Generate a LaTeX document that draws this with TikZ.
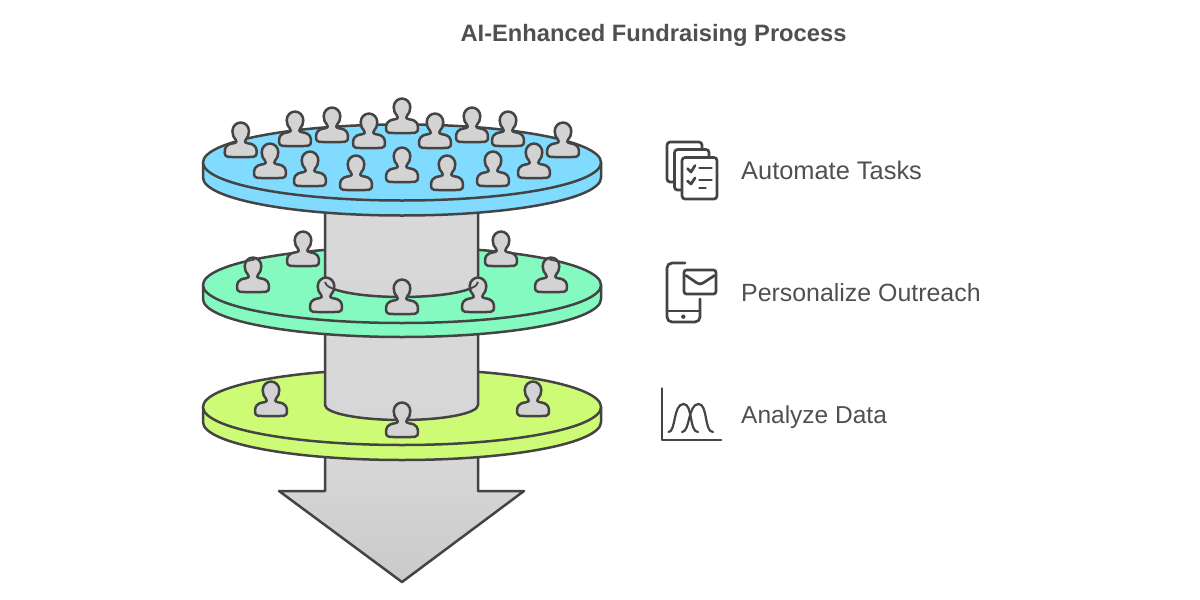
\documentclass[tikz,border=0pt]{standalone}
\usepackage{fontspec}
\setmainfont{Liberation Sans}
\definecolor{ln}{HTML}{444444}
\definecolor{txt}{HTML}{505050}
\definecolor{blued}{HTML}{80DBFF}
\definecolor{greend}{HTML}{85FAC0}
\definecolor{limed}{HTML}{CEFB76}
\definecolor{pers}{HTML}{D3D3D3}
\tikzset{
  x=1pt,y=-1pt,
  edge/.style={draw=ln,line width=2.5pt,line join=round,line cap=round},
  icon/.style={draw=ln,line width=2.7pt,line join=round,line cap=round},
  label/.style={text=txt,anchor=base west,inner sep=0pt},
  person/.pic={
    \path[edge,fill=pers,yshift=1.25pt]
      (-13,0) .. controls (-5,0.6) and (5,0.6) .. (13,0)
      .. controls (15.2,-0.3) and (16,-2) .. (16,-4)
      .. controls (16,-9) and (15,-12.5) .. (7,-13.5)
      .. controls (3.8,-14.2) and (3.6,-15.6) .. (5,-17)
      .. controls (7,-19) and (8.3,-22) .. (8.3,-25.5)
      .. controls (8.3,-30.5) and (4.5,-34.2) .. (0,-34.2)
      .. controls (-4.5,-34.2) and (-8.3,-30.5) .. (-8.3,-25.5)
      .. controls (-8.3,-22) and (-7,-19) .. (-5,-17)
      .. controls (-3.6,-15.6) and (-3.8,-14.2) .. (-7,-13.5)
      .. controls (-15,-12.5) and (-16,-9) .. (-16,-4)
      .. controls (-16,-2) and (-15.2,-0.3) .. (-13,0) -- cycle;
  }
}
\newcommand{\discside}[3]{% centre y, thickness, colour
  \path[edge,fill=#3] (203,#1) -- (203,#1+#2) .. controls (203,#1+#2+21) and (291,#1+#2+38) .. (402,#1+#2+38)
     .. controls (513,#1+#2+38) and (601,#1+#2+21) .. (601,#1+#2) -- (601,#1) -- cycle;
  \path[edge,fill=#3] (203,#1) .. controls (203,#1+21) and (291,#1+38) .. (402,#1+38)
     .. controls (513,#1+38) and (601,#1+21) .. (601,#1)
     .. controls (601,#1-21) and (513,#1-38) .. (402,#1-38)
     .. controls (291,#1-38) and (203,#1-21) .. (203,#1) -- cycle;}
\newcommand{\cylfront}[2]{% top y, straight end y
  \path[edge,top color=white!85!black,bottom color=white!84!black] (325,#1) -- (325,#2)
    .. controls (325,#2+8.3) and (359,#2+15) .. (401.5,#2+15)
    .. controls (444,#2+15) and (478,#2+8.3) .. (478,#2) -- (478,#1);}
\begin{document}
\begin{tikzpicture}
\useasboundingbox (0,0) rectangle (1200,600);
\fill[white] (0,0) rectangle (1200,600);
\node[font=\bfseries\fontsize{23.7}{28}\selectfont,text=txt,inner sep=0pt] (title) at (653.5,35) {AI-Enhanced Fundraising Process};

% arrow
\path[edge,top color=white!85!black,bottom color=white!79!black]
  (325,450) -- (325,491) -- (279,491) -- (402,582) -- (524,491) -- (478,491) -- (478,450) -- cycle;

% bottom disc
\discside{407}{15}{limed}
\cylfront{330}{405}
\foreach \px/\py in {271/417,402/438,533/417} \pic at (\px,\py) {person};

% middle disc
\discside{285}{14}{greend}
\cylfront{205}{282}
\foreach \px/\py in {303/267,253/293,326/313,402/315,478/313,501/267,551/293} \pic at (\px,\py) {person};
% edges showing through the heads
\begin{scope}
  \clip (326,287) circle (8) (478,287) circle (8) (253,267) circle (8) (551,267) circle (8);
  \path[draw=ln,line width=1.8pt] (325,282)
    .. controls (325,290.3) and (359,297) .. (401.5,297)
    .. controls (444,297) and (478,290.3) .. (478,282);
  \path[draw=ln,line width=1.8pt] (203,285)
     .. controls (203,264) and (291,247) .. (402,247)
     .. controls (513,247) and (601,264) .. (601,285);
\end{scope}

% top disc
\discside{162.5}{15}{blued}
\foreach \px/\py in {240.7/158,295/147,332/143,369/149,402/134,435/149,472/143,508/147,563/158,
                     270/179,310/187,356/191,402/183,447/191,493/187,534/179} \pic at (\px,\py) {person};

% labels
\node[label,font=\fontsize{25.4}{28}\selectfont] (autotext) at (741,179) {Automate Tasks};
\node[label,font=\fontsize{24.9}{28}\selectfont] (perstext) at (741,301) {Personalize Outreach};
\node[label,font=\fontsize{24.5}{28}\selectfont] (analtext) at (741,423) {Analyze Data};

% tasks icon
\draw[icon,fill=white,rounded corners=3pt] (667,142) rectangle (702,182);
\draw[icon,fill=white,rounded corners=3pt] (674.5,149.5) rectangle (709,190);
\draw[icon,fill=white,rounded corners=3pt] (682,157.5) rectangle (717,199);
\draw[icon] (687.5,168.5) -- (691,172) -- (695,165.5);
\draw[icon] (687.5,181) -- (691,184) -- (695,178);
\draw[icon] (699.5,168) -- (711.5,168);
\draw[icon] (699.5,180) -- (711.5,180);
\draw[icon] (699.5,188) -- (705.5,188);

% phone icon
\draw[icon,rounded corners=5pt] (685,263) -- (667,263) -- (667,322) -- (700,322) -- (700,299);
\draw[icon] (667,311) -- (700,311);
\fill[ln] (683.3,316.7) circle (2.2);
\draw[icon,rounded corners=2.5pt] (684,270) rectangle (716,294);
\draw[icon] (686,275.5) -- (697,283) .. controls (699,284.3) and (701,284.3) .. (703,283) -- (714.5,275.5);

% chart icon
\draw[icon] (662,388.5) -- (662,440) -- (721,440);
\draw[icon,line width=2.2pt] (668.5,432) .. controls (676,432) and (673,404) .. (683.5,404) .. controls (693,404) and (689,432) .. (698,432);
\draw[icon,line width=2.2pt] (682,432) .. controls (690,432) and (688,404) .. (698.5,404) .. controls (708,404) and (704,432) .. (713,432);
\end{tikzpicture}
\end{document}
